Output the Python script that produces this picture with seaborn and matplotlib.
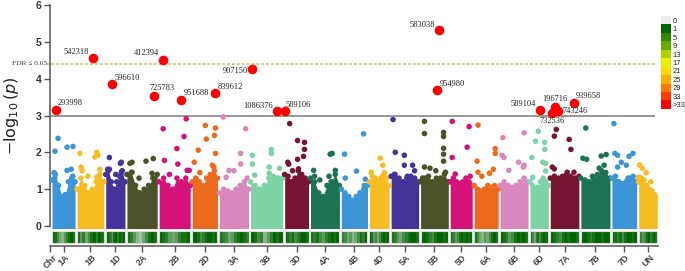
import numpy as np
import pandas as pd
import matplotlib
matplotlib.use('Agg')
import matplotlib.pyplot as plt
from matplotlib.colors import ListedColormap, LinearSegmentedColormap
from matplotlib.patches import Rectangle
import seaborn as sns

# chromosomes and their lengths (Mb)
chroms = ['1A', '1B', '1D', '2A', '2B', '2D', '3A', '3B', '3D', '4A', '4B',
          '4D', '5A', '5B', '5D', '6A', '6B', '6D', '7A', '7B', '7D', 'UN']
chrom_len_mb = [594, 689, 495, 780, 801, 651, 750, 830, 615, 744, 673,
                509, 709, 713, 566, 618, 720, 473, 736, 750, 638, 480]
gap_mb = 50

chrom_palette = ['#3b95d6', '#f6bd22', '#45339a', '#4a5327', '#d5127a',
                 '#eb6a1d', '#d987bc', '#7dd3a6', '#771530', '#1d7252']

# top of the dense SNP cloud (-log10 p), sampled evenly along each chromosome
cloud_top = {
    '1A': [1.25, 1.40, 1.10, 0.80, 0.85, 1.20, 1.30, 1.20],
    '1B': [1.00, 1.30, 1.10, 0.90, 1.00, 1.20, 1.40, 1.20],
    '1D': [1.40, 1.50, 1.20, 1.00, 1.20, 1.35, 1.50, 1.20],
    '2A': [1.40, 1.45, 1.10, 0.90, 1.00, 1.10, 1.30, 1.40],
    '2B': [1.20, 1.30, 1.10, 1.00, 1.30, 1.20, 1.30, 1.10],
    '2D': [1.20, 1.30, 1.20, 1.10, 1.30, 1.40, 1.60, 1.30],
    '3A': [0.90, 1.00, 0.95, 0.90, 1.00, 1.10, 1.20, 1.00],
    '3B': [1.20, 1.10, 1.00, 1.10, 1.30, 1.35, 1.30, 1.30],
    '3D': [1.40, 1.35, 1.20, 1.30, 1.50, 1.40, 1.30, 1.20],
    '4A': [1.30, 1.20, 0.90, 0.80, 1.10, 1.20, 1.40, 1.10],
    '4B': [1.00, 0.90, 0.80, 0.70, 0.80, 0.90, 1.00, 1.10],
    '4D': [1.20, 1.35, 1.30, 1.20, 1.30, 1.40, 1.30, 1.10],
    '5A': [1.35, 1.40, 1.30, 1.20, 1.30, 1.35, 1.30, 1.20],
    '5B': [1.20, 1.30, 1.35, 1.20, 1.30, 1.30, 1.40, 1.20],
    '5D': [1.20, 1.30, 1.20, 1.15, 1.20, 1.30, 1.20, 1.10],
    '6A': [1.10, 1.00, 0.95, 1.00, 1.10, 1.05, 1.10, 1.00],
    '6B': [1.10, 1.20, 1.10, 1.05, 1.10, 1.20, 1.30, 1.20],
    '6D': [1.20, 1.10, 1.00, 1.05, 1.20, 1.30, 1.20, 1.10],
    '7A': [1.30, 1.35, 1.30, 1.35, 1.40, 1.35, 1.30, 1.35],
    '7B': [1.30, 1.25, 1.20, 1.30, 1.40, 1.50, 1.45, 1.30],
    '7D': [1.30, 1.35, 1.20, 1.15, 1.20, 1.30, 1.35, 1.20],
    'UN': [1.20, 1.30, 1.25, 1.10, 1.00, 0.95, 0.85, 0.75],
}

# scattered SNPs above the cloud: (fraction along chromosome, -log10 p)
scatter_snps = {
    '1A': [(0.26, 2.38), (0.13, 2.03), (0.65, 2.14), (0.91, 2.16), (0.65, 1.51),
           (0.83, 1.54), (0.09, 1.45), (0.12, 1.30), (0.90, 1.35)],
    '1B': [(0.11, 1.97), (0.74, 2.00), (0.78, 1.92), (0.67, 1.87), (0.15, 1.60),
           (0.19, 1.50), (0.85, 1.54), (0.74, 1.33), (0.40, 1.35)],
    '1D': [(0.19, 1.86), (0.76, 1.70), (0.81, 1.73), (0.10, 1.54), (0.19, 1.54),
           (0.81, 1.46), (0.52, 1.40)],
    '2A': [(0.17, 1.73), (0.10, 1.70), (0.63, 1.76), (0.87, 1.83), (0.17, 1.46),
           (0.83, 1.43), (0.87, 1.30), (0.40, 1.30)],
    '2B': [(0.17, 1.78), (0.13, 2.64), (0.87, 2.91), (0.80, 2.43), (0.57, 2.10),
           (0.60, 1.68), (0.90, 1.51), (0.97, 1.51), (0.33, 1.40)],
    '2D': [(0.52, 2.73), (0.92, 2.66), (0.88, 2.46), (0.56, 2.36), (0.24, 2.06),
           (0.08, 1.73), (0.92, 1.97), (0.80, 1.65), (0.88, 1.50), (0.30, 1.45)],
    '3A': [(0.13, 2.96), (0.33, 1.51), (0.23, 1.32), (0.73, 1.97), (0.73, 1.68),
           (0.90, 2.64), (0.50, 1.50), (0.95, 1.30)],
    '3B': [(0.06, 1.92), (0.06, 1.68), (0.13, 1.38), (0.65, 2.08), (0.65, 1.97),
           (0.58, 1.60), (0.58, 1.43), (0.90, 1.57), (0.87, 1.30)],
    '3D': [(0.21, 2.78), (0.54, 2.32), (0.83, 2.27), (0.83, 2.08), (0.79, 1.89),
           (0.54, 1.81), (0.13, 1.73), (0.17, 1.68), (0.58, 1.55), (0.33, 1.50)],
    '4A': [(0.11, 1.51), (0.14, 1.35), (0.68, 1.95), (0.75, 1.97), (0.86, 1.51),
           (0.64, 1.35), (0.32, 1.25)],
    '4B': [(0.12, 1.95), (0.85, 2.50), (0.58, 1.49), (0.92, 1.27), (0.88, 1.10),
           (0.15, 1.30)],
    '4D': [(0.09, 1.46), (0.55, 1.84), (0.68, 1.65), (0.77, 1.45), (0.59, 1.30)],
    '5A': [(0.07, 2.89), (0.15, 2.00), (0.48, 1.92), (0.48, 1.65), (0.78, 1.65),
           (0.85, 1.50), (0.11, 1.40), (0.59, 1.35)],
    '5B': [(0.14, 2.84), (0.14, 2.51), (0.83, 2.54), (0.83, 2.43), (0.83, 2.11),
           (0.83, 1.95), (0.83, 1.76), (0.14, 1.60), (0.34, 1.57), (0.55, 1.50),
           (0.90, 1.46), (0.07, 1.30)],
    '5D': [(0.09, 2.84), (0.09, 1.86), (0.23, 1.41), (0.86, 2.70), (0.77, 2.14),
           (0.91, 1.35)],
    '6A': [(0.16, 2.74), (0.88, 2.10), (0.88, 1.97), (0.16, 1.46), (0.32, 1.35),
           (0.64, 1.43), (0.80, 1.54), (0.12, 1.76)],
    '6B': [(0.10, 2.40), (0.07, 1.92), (0.14, 1.86), (0.31, 1.51), (0.86, 2.53),
           (0.66, 1.73), (0.83, 1.60), (0.86, 1.65)],
    '6D': [(0.45, 2.57), (0.30, 2.30), (0.80, 2.27), (0.80, 2.08), (0.10, 1.86),
           (0.70, 1.73), (0.85, 1.70), (0.85, 1.49), (0.15, 1.32)],
    '7A': [(0.21, 2.62), (0.14, 2.44), (0.66, 2.35), (0.72, 2.08), (0.07, 1.60),
           (0.14, 1.55), (0.59, 1.46), (0.83, 1.46)],
    '7B': [(0.17, 2.66), (0.07, 1.84), (0.20, 1.81), (0.70, 1.90), (0.87, 1.94),
           (0.63, 1.57), (0.40, 1.35), (0.80, 1.65)],
    '7D': [(0.08, 2.78), (0.12, 1.97), (0.23, 1.92), (0.38, 1.73), (0.23, 1.60),
           (0.58, 1.65), (0.85, 1.97), (0.69, 1.89), (0.65, 1.30)],
    'UN': [(0.05, 1.66), (0.20, 1.57), (0.40, 1.45), (0.00, 1.33), (0.65, 1.20)],
}

# significant SNPs
sig_chrom = ['1A', '1B', '1D', '2A', '2B', '2B', '2D', '3B', '3B', '3D',
             '5B', '5B', '6D', '7A', '7A', '7A', '7A']
sig_pos_mb = [103, 412, 163, 700, 101, 565, 590, 42, 686, 12,
              479, 428, 264, 127, 50, 205, 617]
sig_logp = [3.16, 4.57, 3.86, 3.54, 4.51, 3.43, 3.62, 4.27, 3.11, 3.11,
            5.32, 3.68, 3.14, 3.22, 3.08, 3.11, 3.33]
sig_label = ['293998', '542318', '596610', '725783', '412394', '951688',
             '839612', '907150', '1086376', '589106', '583038', '954980',
             '589104', '196716', '732536', '743246', '939658']

fdr_line = 4.41
suggestive_line = 3.0

# relative SNP density in bins along each chromosome (1 = dense)
density = {
    '1A': [1.0, 0.9, 0.7, 0.5, 0.4, 0.6, 0.8, 0.9, 1.0, 0.9],
    '1B': [0.9, 0.6, 0.8, 0.5, 0.7, 0.9, 1.0, 0.8, 1.0, 0.9],
    '1D': [1.0, 0.9, 0.8, 0.6, 0.9, 1.0, 0.8, 1.0, 0.9, 1.0],
    '2A': [0.9, 0.8, 0.6, 0.4, 0.3, 0.5, 0.7, 0.9, 1.0, 0.9],
    '2B': [1.0, 0.9, 0.8, 0.6, 0.5, 0.6, 0.8, 0.9, 0.9, 1.0],
    '2D': [1.0, 1.0, 0.9, 0.7, 0.8, 0.9, 1.0, 1.0, 0.9, 1.0],
    '3A': [0.9, 0.8, 0.7, 0.5, 0.6, 0.8, 0.9, 1.0, 0.9, 0.8],
    '3B': [1.0, 0.9, 0.7, 0.8, 0.4, 0.6, 0.8, 1.0, 0.9, 1.0],
    '3D': [1.0, 0.9, 0.8, 0.9, 0.7, 0.8, 0.9, 1.0, 1.0, 0.9],
    '4A': [0.9, 0.8, 0.9, 0.7, 0.6, 0.8, 0.9, 1.0, 0.9, 1.0],
    '4B': [0.8, 0.7, 0.5, 0.6, 0.4, 0.5, 0.7, 0.9, 0.8, 1.0],
    '4D': [1.0, 0.9, 0.6, 0.7, 0.5, 0.7, 0.9, 1.0, 0.9, 1.0],
    '5A': [0.9, 0.8, 0.6, 0.5, 0.7, 0.8, 0.9, 1.0, 1.0, 0.9],
    '5B': [1.0, 1.0, 0.9, 0.8, 0.7, 0.9, 1.0, 1.0, 0.9, 1.0],
    '5D': [1.0, 0.8, 0.6, 0.7, 0.9, 1.0, 0.9, 1.0, 0.9, 1.0],
    '6A': [0.9, 0.7, 0.5, 0.4, 0.6, 0.5, 0.7, 0.9, 1.0, 0.9],
    '6B': [1.0, 0.9, 0.8, 0.6, 0.7, 0.9, 1.0, 0.9, 1.0, 0.9],
    '6D': [0.9, 0.7, 0.5, 0.8, 0.9, 0.7, 0.9, 1.0, 0.9, 1.0],
    '7A': [1.0, 0.9, 0.8, 0.7, 0.9, 1.0, 0.9, 1.0, 1.0, 0.9],
    '7B': [1.0, 1.0, 0.9, 0.8, 0.9, 1.0, 1.0, 0.9, 1.0, 1.0],
    '7D': [1.0, 0.9, 0.8, 0.9, 0.7, 0.9, 1.0, 1.0, 0.9, 1.0],
    'UN': [0.9, 0.8, 0.6, 0.7, 0.9, 1.0, 0.8, 0.9, 1.0, 0.9],
}

legend_levels = ['0', '1', '5', '9', '13', '17', '21', '25', '29', '33', '>33']
legend_colors = ['#ececec', '#006400', '#2b8a00', '#6aa800', '#b2cf00', '#e9f000',
                 '#ffd800', '#ffae00', '#ff7800', '#ff3c00', '#ff0000']

# ---- layout in genome coordinates ----
starts = np.cumsum([0] + [L + gap_mb for L in chrom_len_mb[:-1]])
chrom_start = dict(zip(chroms, starts))
chrom_len = dict(zip(chroms, chrom_len_mb))
centers = [chrom_start[c] + chrom_len[c] / 2 for c in chroms]
color_of = {c: chrom_palette[i % len(chrom_palette)] for i, c in enumerate(chroms)}

rows = []
for c in chroms:
    for frac, v in scatter_snps[c]:
        rows.append((c, chrom_start[c] + frac * chrom_len[c], v))
    for frac, v in zip(np.linspace(0, 1, len(cloud_top[c])), cloud_top[c]):
        rows.append((c, chrom_start[c] + frac * chrom_len[c], v))
snp_df = pd.DataFrame(rows, columns=['chrom', 'pos', 'logp'])

sig_df = pd.DataFrame({'chrom': sig_chrom, 'pos_mb': sig_pos_mb,
                       'logp': sig_logp, 'label': sig_label})
sig_df['pos'] = sig_df['chrom'].map(chrom_start) + sig_df['pos_mb']

sns.set_style('ticks')
plt.rcParams['font.family'] = ['Liberation Sans', 'DejaVu Sans']

fig = plt.figure(figsize=(6.85, 2.71), dpi=100)
ax = fig.add_axes([0.073, 0.0923, 0.888, 0.8892])

x_left, x_right = -52, 15610
ax.set_xlim(x_left, x_right)
ax.set_ylim(-0.543, 6.0)

# dense cloud of non-significant SNPs
for c in chroms:
    xs = chrom_start[c] + np.linspace(0, 1, len(cloud_top[c])) * chrom_len[c]
    ax.fill_between(xs, -0.07, cloud_top[c], color=color_of[c], lw=0, zorder=2)

sns.scatterplot(data=snp_df, x='pos', y='logp', hue='chrom', palette=color_of,
                s=16, linewidth=0, legend=False, ax=ax, zorder=3)

# threshold lines
ax.hlines(suggestive_line, x_left, 15530, color='#7a7a7a', lw=1.1, zorder=1)
ax.hlines(fdr_line, -150, 15530, color='#d9b85a', lw=1.1, ls=(0, (2, 1.2)),
          zorder=1, clip_on=False)
ax.text(-0.005, fdr_line, 'FDR ≤ 0.05', transform=ax.get_yaxis_transform(),
        ha='right', va='center', fontsize=5.3, family='Liberation Serif',
        color='#333333')

# significant SNPs
sns.scatterplot(data=sig_df, x='pos', y='logp', color='#ff0000', s=48,
                linewidth=0, legend=False, ax=ax, zorder=5)

label_offsets = {
    '293998': (1.5, 2, 'left', 'bottom'), '542318': (-3, 1.5, 'right', 'bottom'),
    '596610': (1.5, 1.5, 'left', 'bottom'), '725783': (-3, 2.5, 'left', 'bottom'),
    '412394': (-3, 2, 'right', 'bottom'), '951688': (2, 2, 'left', 'bottom'),
    '839612': (1.5, 1.5, 'left', 'bottom'), '907150': (-3, -1.5, 'right', 'center'),
    '1086376': (-3, 1, 'right', 'bottom'), '589106': (0, 2, 'left', 'bottom'),
    '583038': (-3, 1, 'right', 'bottom'), '954980': (1.5, 2, 'left', 'bottom'),
    '589104': (-3, 2, 'right', 'bottom'), '196716': (0, 3.5, 'center', 'bottom'),
    '732536': (0, -3.5, 'center', 'top'), '743246': (3, 0, 'left', 'center'),
    '939658': (1, 2.5, 'left', 'bottom'),
}
for _, r in sig_df.iterrows():
    dx, dy, ha, va = label_offsets[r['label']]
    ax.annotate(r['label'], (r['pos'], r['logp']), xytext=(dx, dy),
                textcoords='offset points', ha=ha, va=va, fontsize=6,
                family='Liberation Serif', color='#222222', zorder=6)

# SNP density strip under each chromosome
dens_cmap = LinearSegmentedColormap.from_list('dens', ['#e4ebe4', '#006400'])
for c in chroms:
    vals = density[c]
    w = chrom_len[c] / len(vals)
    xs = chrom_start[c] + (np.arange(len(vals)) + 0.5) * w
    ax.bar(xs, 0.33, width=w, bottom=-0.46, color=dens_cmap(np.array(vals)),
           linewidth=0, zorder=2)
    ax.add_patch(Rectangle((chrom_start[c], -0.46), chrom_len[c], 0.33,
                           fill=False, ec='#dcdcdc', lw=0.8, zorder=3))

# axes styling
sns.despine(ax=ax)
ax.spines['left'].set_bounds(0, 6)
for s in ['left', 'bottom']:
    ax.spines[s].set_color('#555555')
    ax.spines[s].set_linewidth(1.1)
ax.set_yticks(range(0, 7))
ax.set_yticklabels([str(i) for i in range(0, 7)], fontweight='bold',
                   fontsize=7.5, color='#333333')
ax.set_xticks([x_left] + centers)
ax.set_xticklabels(['Chr'] + chroms, rotation=45, fontsize=6.5,
                   fontweight='bold', color='#444444')
ax.tick_params(axis='y', length=4, width=1, color='#555555', pad=2)
ax.tick_params(axis='x', length=4, width=1, color='#555555', pad=1)
ax.set_xlabel('')
ax.set_ylabel(r'$-\log_{10}(p)$', fontsize=11.5, color='#222222')
ax.yaxis.set_label_coords(-0.047, 0.54)

# colour key
lax = fig.add_axes([0.965, 0.598, 0.0146, 0.343])
sns.heatmap(np.arange(len(legend_levels)).reshape(-1, 1), ax=lax,
            cmap=ListedColormap(legend_colors), cbar=False,
            xticklabels=False, yticklabels=legend_levels)
lax.yaxis.tick_right()
lax.tick_params(axis='y', length=0, labelsize=5.5, pad=1, labelrotation=0)

fig.savefig('out.png', dpi=100)
